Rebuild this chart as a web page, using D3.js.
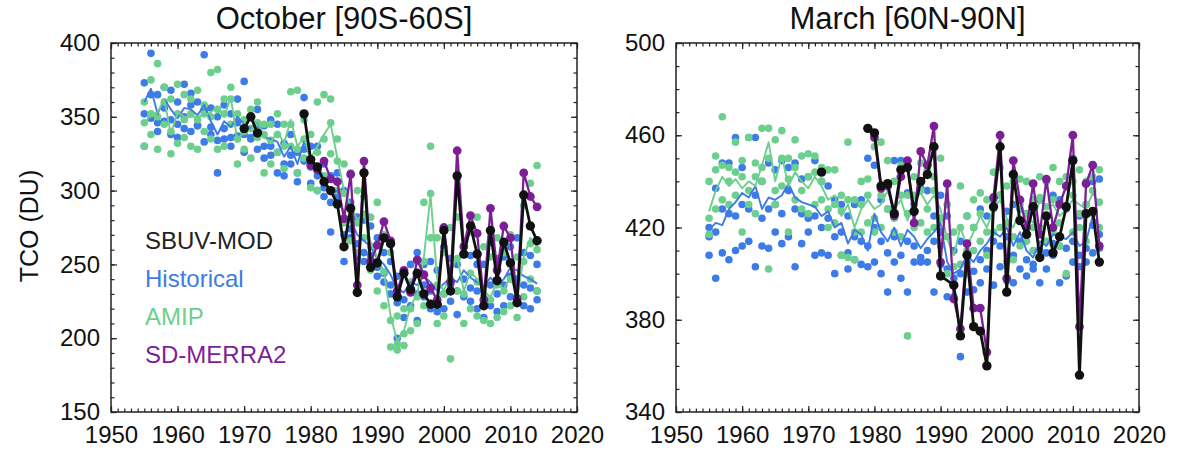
<!DOCTYPE html>
<html><head><meta charset="utf-8">
<script src="https://cdn.jsdelivr.net/npm/d3@7"></script>
<style>
body{margin:0;background:#fff;}
svg{display:block;font-family:"Liberation Sans",Arial,Helvetica,sans-serif;}
</style>
</head><body>
<svg id="c" width="1186" height="450"></svg>
<script>
// ---------- DATA ----------
const modelYears = d3.range(1955, 2015);           // 1955..2014
const sdYears = d3.range(1980, 2015);              // 1980..2014

// Left panel: October [90S-60S]
const histMeanL = [360,369,352,362,355, 349,356,355,351,358,347,338,347,343,350, 345,342,347,336,335,333,323,330,318,333, 322,316,308,298,300,284,280,270,266,262, 254,250,243,233,231,238,236,242,238,232, 237,241,238,246,241,238,235,241,236,240, 248,246,242,240,237];
const histL1 = [373,393,365,370,368, 360,372,366,360,392,356,350,358,352,362, 374,350,355,344,348,345,332,338,326,363, 330,330,318,310,312,300,292,282,280,276, 268,258,252,242,245,250,258,250,252,246, 262,254,250,262,256,250,250,265,254,255, 262,268,258,256,250];
const histL2 = [352,365,346,356,348, 345,350,358,344,355,343,334,342,336,346, 338,336,345,330,330,326,318,324,312,328, 316,310,302,292,296,252,274,264,258,256, 248,244,236,224,226,232,230,236,232,226, 230,236,232,240,234,232,228,236,230,236, 242,240,236,234,232];
const histL3 = [330,349,340,347,338, 336,342,340,344,333,338,312,335,330,337, 326,335,328,322,324,312,310,318,306,320, 305,300,296,272,290,270,268,255,252,248, 242,238,230,200,214,222,212,228,220,218, 220,225,216,228,225,220,214,222,218,222, 228,225,222,220,226];

const amipMeanL = [345,352,353,362,338, 353,350,350,350,351,353,357,350,363,333, 341,341,348,336,333,340,332,348,330,336, 322,330,338,345,322,300,290,280,285,265, 255,245,215,198,205,222,230,255,297,240, 232,245,255,232,245,240,232,228,238,233, 242,228,255,268,262];
const amipL1 = [360,375,386,370,362, 372,365,362,368,358,380,382,362,370,352, 348,355,360,345,345,352,345,367,368,348, 338,360,365,362,335,318,312,300,296,282, 292,270,258,215,220,238,252,292,330,268, 258,275,282,262,272,282,262,255,268,258, 270,255,290,305,317];
const amipL2 = [346,352,350,360,340, 352,348,352,348,352,350,355,352,362,335, 340,342,346,338,334,338,330,345,328,335, 320,326,335,346,320,298,288,278,284,262, 252,245,212,196,203,220,228,252,298,236, 230,240,254,230,244,238,228,226,236,232, 240,225,252,264,260];
const amipL3 = [330,338,328,345,325, 332,336,330,328,340,335,328,330,345,318, 328,322,336,312,318,326,315,330,312,322, 302,300,310,325,300,278,266,258,268,246, 232,222,194,192,195,205,210,222,268,210, 215,186,232,210,220,215,212,210,214,218, 222,214,228,240,232];

const sdL = [317,314,320,308,306,281,311,236,320,252, 263,279,266,232,246,231,253,243,234,226, 275,238,327,262,283,271,226,288,246,276, 268,227,312,296,289];

const sbuvYearsL = [1970,1971,1972, 1979, 1980,1981,1982,1983,1984,1985,1986,1987,1988,1989, 1990,1991,1992,1993,1994,1995,1996,1997,1998,1999, 2000,2001,2002,2003,2004,2005,2006,2007,2008,2009, 2010,2011,2012,2013,2014];
const sbuvL = [342,350,339, 352, 321,316,306,300,291,262,288,231,312,248, 251,268,264,228,244,233,244,230,223,223, 273,232,310,257,276,257,222,273,239,265, 251,224,297,276,266];

// Right panel: March [60N-90N]
const histMeanR = [419,422,421,428,431, 435,433,438,428,433,432,434,439,433,431, 430,429,425,427,420,422,413,419,417,410, 426,418,414,420,412,419,416,411,415,418, 422,405,400,402,408,405,410,413,418,416, 420,412,418,410,407,414,412,417,416,415, 418,412,414,425,420];
const histR1 = [420,437,448,448,459, 446,459,459,440,448,445,449,446,448,441, 442,449,440,438,432,430,425,430,432,450, 447,432,428,449,449,435,430,437,436,425, 434,425,410,414,425,420,428,425,432,434, 427,430,428,426,427,432,425,434,432,428, 450,425,430,440,441];
const histR2 = [416,418,428,426,425, 430,428,434,424,428,430,426,436,428,426, 424,425,420,424,416,418,409,416,414,412, 420,414,409,416,408,414,412,407,410,414, 418,402,398,400,405,401,406,410,414,412, 416,408,414,406,404,410,409,413,412,411, 414,408,411,421,417];
const histR3 = [408,398,409,406,410, 412,414,403,412,411,418,413,416,403,413, 418,408,409,408,400,408,402,406,404,403, 405,400,392,405,398,392,405,405,405,392, 404,390,390,364,392,393,396,402,395,403, 397,396,402,399,402,396,402,408,396,399, 405,403,405,409,411];

const amipMeanR = [427,436,442,438,441, 437,440,438,447,457,440,451,438,444,440, 437,442,438,432,434,425,430,420,428,432, 428,430,436,428,432,423,432,435,430,434, 428,415,408,420,412,418,425,420,428,432, 424,420,428,425,422,432,428,430,425,428, 432,430,428,435,430];
const amipR1 = [440,451,468,446,457, 449,459,448,463,463,458,462,450,458,451, 452,451,446,445,445,434,457,432,440,441, 455,457,449,440,447,434,442,448,445,442, 450,430,418,438,425,432,435,432,444,446, 438,440,441,440,432,442,440,446,440,442, 440,445,440,442,445];
const amipR2 = [424,445,447,440,444, 442,436,442,446,450,436,450,441,446,436, 442,444,440,428,430,427,432,418,430,434, 424,434,439,424,434,426,434,436,428,436, 424,416,403,420,410,420,426,418,428,434, 422,416,430,426,420,433,429,432,422,429, 434,426,430,436,431];
const amipR3 = [417,428,432,430,434, 418,430,426,440,402,430,438,418,432,428, 426,430,432,420,422,408,407,406,418,422, 418,420,428,418,416,373,420,422,418,420, 412,400,395,404,400,410,414,408,418,420, 405,406,412,414,410,420,414,418,412,400, 418,420,414,426,420];

const sdR = [459,437,438,425,442,449,422,453,447,464, 405,439,389,376,413,385,385,366,433,460, 398,449,432,420,439,417,441,420,430,438, 460,377,439,447,412];

const sbuvYearsR = [1972, 1979, 1980,1981,1982,1983,1984,1985,1986,1987,1988,1989, 1990,1992,1993,1994,1995,1996,1997,1998,1999, 2000,2001,2002,2003,2004,2005,2006,2007,2008,2009, 2010,2011,2012,2013,2014];
const sbuvR = [444, 463, 461,438,439,426,445,446,427,440,443,455, 399,395,373,408,377,375,360,429,455, 392,443,423,417,429,407,425,409,416,429, 449,356,426,427,405];

const legendLabels = ["SBUV-MOD","Historical","AMIP","SD-MERRA2"];
const titles = ["October [90S-60S]","March [60N-90N]"];
const yTickL = [150,200,250,300,350,400];
const yTickR = [340,380,420,460,500];
const xTicks = [1950,1960,1970,1980,1990,2000,2010,2020];

// ---------- STYLE ----------
const C = {hist:"#3d7be8", amip:"#6dcf8d", sd:"#7c1f96", sbuv:"#111111"};
const svg = d3.select("#c");
const TOP = 43, BOT = 412;

function zip(ys, vs){ return ys.map((yr,i)=>({yr, v:vs[i]})); }

function panel(o){
  const x = d3.scaleLinear().domain([1950,2020]).range([o.x0, o.x1]);
  const y = d3.scaleLinear().domain(o.dom).range([BOT, TOP]);
  const g = svg.append("g");

  const dots = (data, col, r) => g.append("g").selectAll("circle").data(data).join("circle")
      .attr("cx", d=>x(d.yr)).attr("cy", d=>y(d.v)).attr("r", r).attr("fill", col);
  const line = (data, col, w) => g.append("path").datum(data)
      .attr("d", d3.line().x(d=>x(d.yr)).y(d=>y(d.v)))
      .attr("fill","none").attr("stroke", col).attr("stroke-width", w).attr("stroke-linejoin","round");

  o.hm.forEach(m => dots(zip(modelYears, m), C.hist, 3.8));
  o.am.forEach(m => dots(zip(modelYears, m), C.amip, 3.8));
  line(zip(modelYears, o.hMean), C.hist, 1.9);
  line(zip(modelYears, o.aMean), C.amip, 1.9);
  const sd = zip(sdYears, o.sd);
  line(sd, C.sd, 2.3);
  dots(sd, C.sd, 4.4);
  const sb = zip(o.sbY, o.sb);
  const segs = [];
  sb.forEach((d,i)=>{ if(i===0 || d.yr - sb[i-1].yr > 3) segs.push([]); segs[segs.length-1].push(d); });
  segs.forEach(s => { if (s.length>1) line(s, C.sbuv, 2.8); });
  dots(sb, C.sbuv, 4.7);

  g.append("rect").attr("x", o.x0).attr("y", TOP).attr("width", o.x1-o.x0).attr("height", BOT-TOP)
    .attr("fill","none").attr("stroke","#222").attr("stroke-width",1.5);

  const ax = (sel, gen) => { const a = g.append("g").attr("transform", sel).call(gen);
      a.select(".domain").remove(); a.selectAll("line").attr("stroke","#222").attr("stroke-width",1.2);
      a.selectAll("text").attr("fill","#111").style("font-size","24px").style("font-family",'"Liberation Sans",Arial,sans-serif');
      return a; };
  const yMinor = d3.range(o.dom[0], o.dom[1]+1, 10);
  const yrMinor = d3.range(1950, 2021, 1);
  ax(`translate(0,${BOT})`, d3.axisBottom(x).tickValues(xTicks).tickSize(-6).tickPadding(14).tickFormat(d3.format("d")));
  ax(`translate(0,${BOT})`, d3.axisBottom(x).tickValues(yrMinor).tickSize(-3.5).tickFormat(""));
  ax(`translate(0,${TOP})`, d3.axisTop(x).tickValues(xTicks).tickSize(-6).tickFormat(""));
  ax(`translate(0,${TOP})`, d3.axisTop(x).tickValues(yrMinor).tickSize(-3.5).tickFormat(""));
  ax(`translate(${o.x0},0)`, d3.axisLeft(y).tickValues(o.yt).tickSize(-6).tickPadding(11).tickFormat(d3.format("d")));
  ax(`translate(${o.x0},0)`, d3.axisLeft(y).tickValues(yMinor).tickSize(-3.5).tickFormat(""));
  ax(`translate(${o.x1},0)`, d3.axisRight(y).tickValues(o.yt).tickSize(-6).tickFormat(""));
  ax(`translate(${o.x1},0)`, d3.axisRight(y).tickValues(yMinor).tickSize(-3.5).tickFormat(""));

  svg.append("text").attr("x", (o.x0+o.x1)/2).attr("y", 29).attr("text-anchor","middle")
    .style("font-size","31px").attr("fill","#111").text(o.title);
  return {x,y};
}

panel({x0:111, x1:577, dom:[150,400], yt:yTickL, title:titles[0],
  hm:[histL1,histL2,histL3], am:[amipL1,amipL2,amipL3], hMean:histMeanL, aMean:amipMeanL,
  sd:sdL, sbY:sbuvYearsL, sb:sbuvL});
panel({x0:676, x1:1139, dom:[340,500], yt:yTickR, title:titles[1],
  hm:[histR1,histR2,histR3], am:[amipR1,amipR2,amipR3], hMean:histMeanR, aMean:amipMeanR,
  sd:sdR, sbY:sbuvYearsR, sb:sbuvR});

svg.append("text").attr("transform","translate(29,226) rotate(-90)").attr("text-anchor","middle")
  .attr("dominant-baseline","central").style("font-size","25px").attr("fill","#111").text("TCO (DU)");

const legCols = [C.sbuv, C.hist, C.amip, C.sd];
svg.append("g").selectAll("text").data(legendLabels).join("text")
  .attr("x", 145).attr("y", (d,i)=>249 + i*38)
  .style("font-size","24px").attr("fill",(d,i)=>i===0?"#222":legCols[i]).text(d=>d);
</script>
</body></html>
